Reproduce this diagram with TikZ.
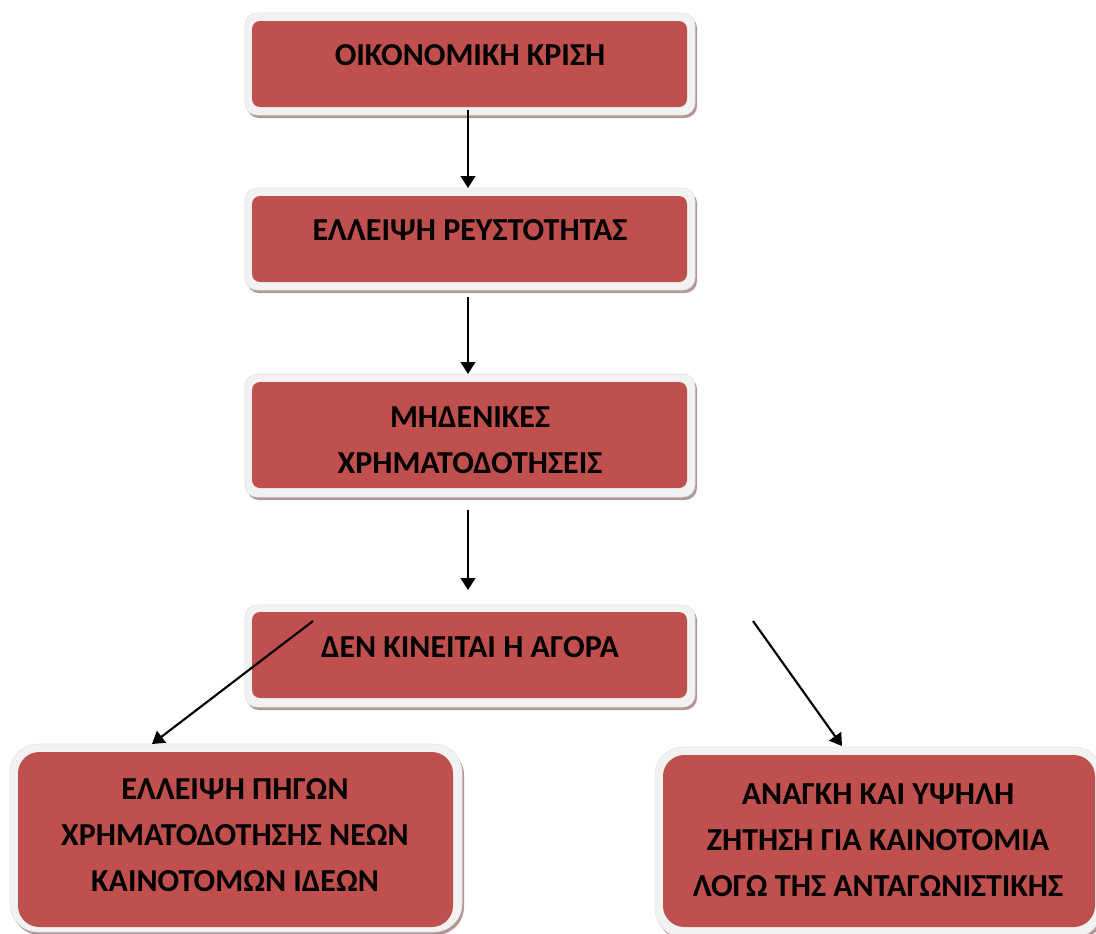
\documentclass[tikz,border=0pt]{standalone}
\usepackage{fontspec}
\setmainfont{Carlito}
\usetikzlibrary{arrows.meta,calc}
\definecolor{boxred}{HTML}{C0504D}
\definecolor{framegray}{HTML}{F2F2F2}
\definecolor{framedge}{HTML}{E4E4E4}
\definecolor{shadowrose}{HTML}{B39797}
\tikzset{
  shadowbox/.style={rectangle, rounded corners=#1, fill=shadowrose, inner sep=0pt, outer sep=0pt},
  framebox/.style={rectangle, rounded corners=#1, fill=framegray, draw=framedge, line width=0.4pt, inner sep=0pt, outer sep=0pt},
  redbox/.style={rectangle, rounded corners=#1, fill=boxred, inner sep=0pt, outer sep=0pt},
  lbl/.style={inner sep=0pt, align=center, font=\fontsize{24}{34.5}\selectfont\bfseries, text=black},
  arr/.style={line width=1.6pt, -{Triangle[length=9pt,width=11pt]}}
}
\begin{document}
\begin{tikzpicture}[x=0.75pt,y=-0.75pt]
\clip (0,0) rectangle (1096,933);
% box 1
\node[shadowbox=9pt, minimum width=337.5pt, minimum height=76.5pt] (s1) at (472,67) {};
\node[framebox=9pt, minimum width=337.5pt, minimum height=76.5pt] (f1) at (470,64) {};
\node[redbox=6pt, minimum width=326.25pt, minimum height=64.5pt] (r1) at (469.5,64) {};
\node[lbl] (t1) at (470,55) {ΟΙΚΟΝΟΜΙΚΗ ΚΡΙΣΗ};
% box 2
\node[shadowbox=9pt, minimum width=337.5pt, minimum height=76.5pt] (s2) at (472,242) {};
\node[framebox=9pt, minimum width=337.5pt, minimum height=76.5pt] (f2) at (470,239) {};
\node[redbox=6pt, minimum width=326.25pt, minimum height=64.5pt] (r2) at (469.5,239) {};
\node[lbl] (t2) at (470,230) {ΕΛΛΕΙΨΗ ΡΕΥΣΤΟΤΗΤΑΣ};
% box 3
\node[shadowbox=9pt, minimum width=337.5pt, minimum height=92.25pt] (s3) at (472,438.5) {};
\node[framebox=9pt, minimum width=337.5pt, minimum height=92.25pt] (f3) at (470,435.5) {};
\node[redbox=6pt, minimum width=326.25pt, minimum height=79.5pt] (r3) at (469.5,435) {};
\node[lbl] (t3) at (470,440) {ΜΗΔΕΝΙΚΕΣ\\ΧΡΗΜΑΤΟΔΟΤΗΣΕΙΣ};
% box 4
\node[shadowbox=9pt, minimum width=337.5pt, minimum height=76.5pt] (s4) at (472,659) {};
\node[framebox=9pt, minimum width=337.5pt, minimum height=76.5pt] (f4) at (470,656) {};
\node[redbox=6pt, minimum width=326.25pt, minimum height=64.5pt] (r4) at (469.5,655) {};
\node[lbl] (t4) at (470,647) {ΔΕΝ ΚΙΝΕΙΤΑΙ Η ΑΓΟΡΑ};
% box 5
\node[shadowbox=21pt, minimum width=339pt, minimum height=141pt] (s5) at (238,841) {};
\node[framebox=21pt, minimum width=339pt, minimum height=141pt] (f5) at (236,838) {};
\node[redbox=16pt, minimum width=326.25pt, minimum height=131.25pt] (r5) at (235.5,839.5) {};
\node[lbl] (t5) at (235,835) {ΕΛΛΕΙΨΗ ΠΗΓΩΝ\\ΧΡΗΜΑΤΟΔΟΤΗΣΗΣ ΝΕΩΝ\\ΚΑΙΝΟΤΟΜΩΝ ΙΔΕΩΝ};
% box 6
\node[shadowbox=21pt, minimum width=335.25pt, minimum height=142.5pt] (s6) at (880.5,845) {};
\node[framebox=21pt, minimum width=335.25pt, minimum height=142.5pt] (f6) at (878.5,842) {};
\node[redbox=16pt, minimum width=324pt, minimum height=129pt] (r6) at (879,841) {};
\node[lbl] (t6) at (878,840) {ΑΝΑΓΚΗ ΚΑΙ ΥΨΗΛΗ\\ΖΗΤΗΣΗ ΓΙΑ ΚΑΙΝΟΤΟΜΙΑ\\ΛΟΓΩ ΤΗΣ ΑΝΤΑΓΩΝΙΣΤΙΚΗΣ};
% arrows
\coordinate (a4s) at (313,621);
\coordinate (a5s) at (753,621);
\draw[arr] ($(r1.south)+(-1.5,3)$) -- ($(f2.north)+(-2,0)$);
\draw[arr] ($(r2.south)+(-1.5,15)$) -- ($(f3.north)+(-2,0)$);
\draw[arr] ($(r3.south)+(-1.5,22)$) -- ($(f4.north)+(-2,-15)$);
\draw[arr] (a4s) -- ($(f5.north)+(-84,0)$);
\draw[arr] (a5s) -- ($(f6.north)+(-36.5,-1)$);
\end{tikzpicture}
\end{document}
